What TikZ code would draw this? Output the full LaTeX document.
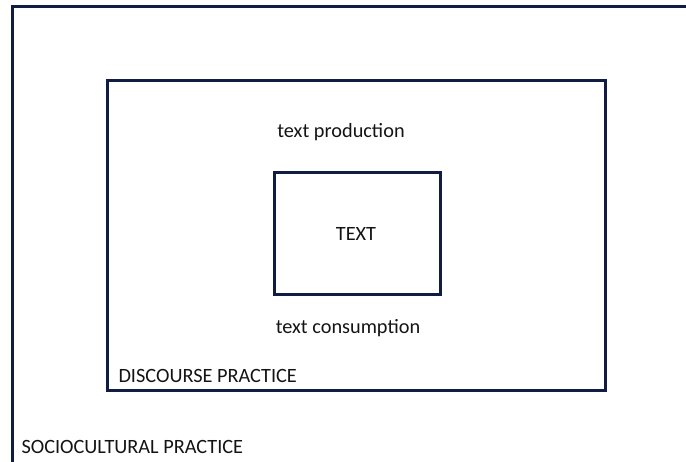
\documentclass[tikz,border=0pt]{standalone}
\usepackage{fontspec}
\setmainfont{Carlito}
\definecolor{frameC}{RGB}{16,28,66}
\definecolor{labelC}{RGB}{20,20,20}

\begin{document}
\begin{tikzpicture}[x=1pt, y=-1pt, line width=3pt,
  lab/.style={text=labelC, inner sep=0pt, font=\fontsize{20.3}{24}\selectfont}]
  \clip (0,0) rectangle (686,461);
  % sociocultural practice (runs off the page)
  \draw[frameC] (12,6) rectangle (720,500);
  % discourse practice
  \draw[frameC] (107,80) rectangle (605,390);
  % text
  \draw[frameC] (274,172) rectangle (440,294);
  % labels
  \node[lab] (prod) at (341,132) {text production};
  \node[lab] (txt) at (356,234) {TEXT};
  \node[lab] (cons) at (348,328) {text consumption};
  \node[lab, anchor=west] (disc) at (117,376) {DISCOURSE PRACTICE};
  \node[lab, anchor=west] (socio) at (20,447) {SOCIOCULTURAL PRACTICE};
\end{tikzpicture}
\end{document}
